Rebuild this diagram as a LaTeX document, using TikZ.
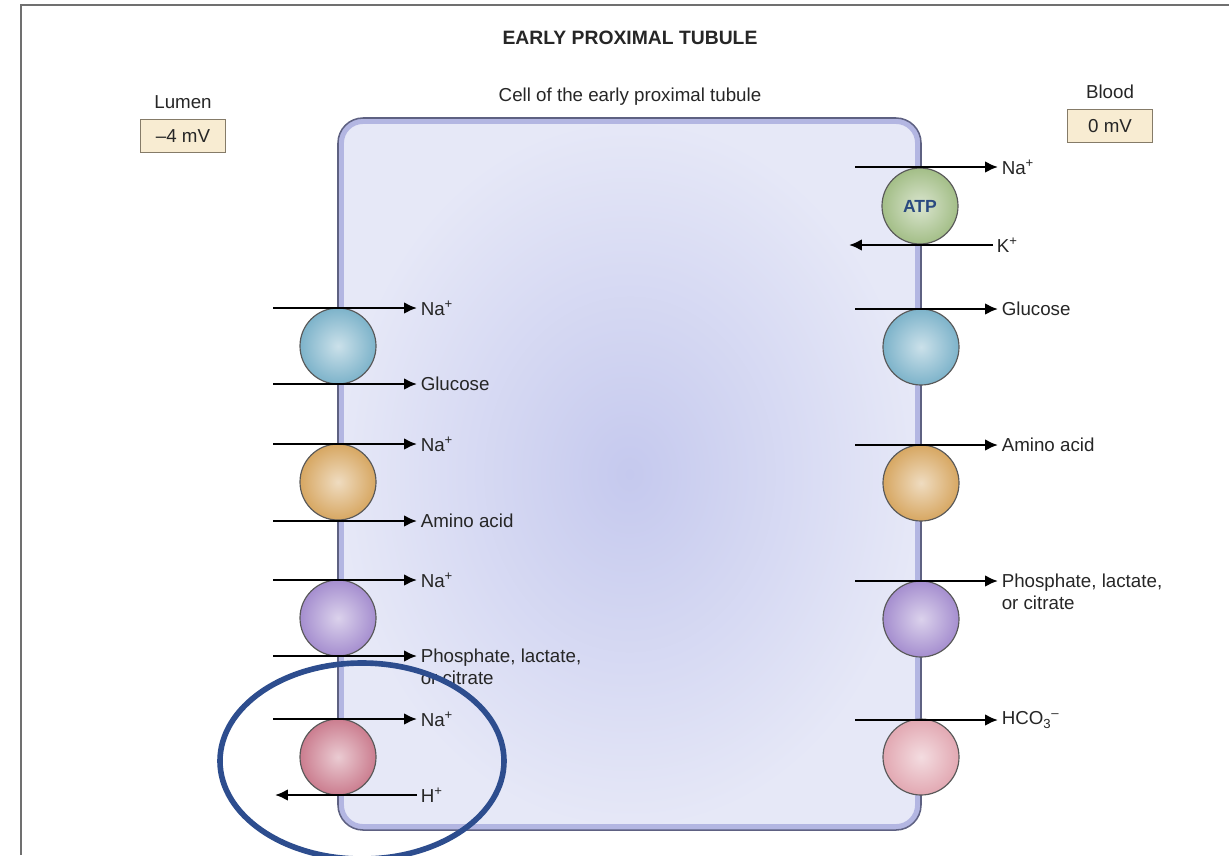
\documentclass[tikz,border=0pt]{standalone}
\usepackage{fontspec}
\setmainfont{Liberation Sans}
\usetikzlibrary{arrows.meta}

\definecolor{frame}{HTML}{707070}
\definecolor{cellin}{HTML}{C5C9EE}
\definecolor{cellout}{HTML}{E6E8F7}
\definecolor{cellband}{HTML}{B3B6E2}
\definecolor{celledge}{HTML}{5E6182}
\definecolor{boxfill}{HTML}{F8ECD2}
\definecolor{boxedge}{HTML}{857B68}
\definecolor{pblue}{HTML}{7DB3CA}
\definecolor{porange}{HTML}{D7A762}
\definecolor{ppurple}{HTML}{A58ECF}
\definecolor{pred}{HTML}{CB7D8F}
\definecolor{ppink}{HTML}{E2A8B2}
\definecolor{pgreen}{HTML}{A3BE87}
\definecolor{atptext}{HTML}{2B4A80}
\definecolor{ringblue}{HTML}{2D4D8E}

\tikzset{
  txt/.style={font=\fontsize{16}{19}\selectfont, text=black!85, inner sep=1.5pt},
  lbl/.style={txt, anchor=west, align=left, inner sep=3pt},
  arr/.style={line width=2pt, -{Latex[length=11pt,width=10pt]}},
  pump/.style={circle, draw=black!65, line width=1pt, minimum size=2.28cm, inner sep=0pt,
    inner color=#1!40!white, outer color=#1},
  mvbox/.style={txt, draw=boxedge, fill=boxfill, line width=1.2pt, minimum width=2.55cm, minimum height=1cm}
}

\begin{document}
\begin{tikzpicture}[x=0.03cm, y=-0.03cm]
    \useasboundingbox (0,0) rectangle (1229,855);
    \draw[line width=1.6pt, frame] (21,855) -- (21,5) -- (1229,5);

    % the cell
    \shade[inner color=cellin, outer color=cellout, rounded corners=0.75cm] (338,118) rectangle (921,830);
    \draw[line width=5pt, cellband, rounded corners=0.66cm] (341,121) rectangle (918,827);
    \draw[line width=1.3pt, celledge, rounded corners=0.75cm] (338,118) rectangle (921,830);

    \node[txt, font=\fontsize{16.5}{19}\selectfont\bfseries] (title) at (630,38) {EARLY PROXIMAL TUBULE};
    \node[txt] (cellname) at (630,97) {Cell of the early proximal tubule};
    \node[txt] (lumen) at (183,102) {Lumen};
    \node[mvbox] (lumenmv) at (183,136) {--4 mV};
    \node[txt] (blood) at (1110,92) {Blood};
    \node[mvbox] (bloodmv) at (1110,126) {0 mV};

    % transporters
    \node[pump=pblue]   (gluL) at (338,346) {};
    \node[pump=porange] (aaL)  at (338,482) {};
    \node[pump=ppurple] (phoL) at (338,618) {};
    \node[pump=pred]    (nhe)  at (338,757) {};
    \node[pump=pgreen]  (atp)  at (920,206) {};
    \node[font=\fontsize{15}{18}\selectfont\bfseries, text=atptext] at (atp) {ATP};
    \node[pump=pblue]   (gluR) at (921,347) {};
    \node[pump=porange] (aaR)  at (921,483) {};
    \node[pump=ppurple] (phoR) at (921,619) {};
    \node[pump=ppink]   (hcoR) at (921,757) {};

    % lumen side fluxes
    \foreach \y/\t [count=\i] in {308/Na\textsuperscript{+}, 384/Glucose, 444/Na\textsuperscript{+},
        521/Amino acid, 580/Na\textsuperscript{+}, 719/Na\textsuperscript{+}} {
        \coordinate (fromL\i) at (273,\y);
        \node[lbl] (toL\i) at (417,\y) {\t};
        \draw[arr] (fromL\i) -- (fromL\i -| toL\i.west);
    }
    \coordinate (fromL7) at (273,656);
    \node[lbl, anchor=north west] (toL7) at (417,645) {Phosphate, lactate,\\or citrate};
    \draw[arr] (fromL7) -- (fromL7 -| toL7.west);
    \coordinate (outH) at (275,795);
    \node[lbl] (hion) at (417,795) {H\textsuperscript{+}};
    \draw[arr] (hion.west) -- (hion.west -| outH);

    % blood side fluxes
    \foreach \y/\t [count=\i] in {167/Na\textsuperscript{+}, 309/Glucose, 445/Amino acid,
        720/HCO\textsubscript{3}\textsuperscript{--}} {
        \coordinate (fromR\i) at (855,\y);
        \node[lbl] (toR\i) at (998,\y) {\t};
        \draw[arr] (fromR\i) -- (fromR\i -| toR\i.west);
    }
    \coordinate (fromR5) at (855,581);
    \node[lbl, anchor=north west] (toR5) at (998,570) {Phosphate, lactate,\\or citrate};
    \draw[arr] (fromR5) -- (fromR5 -| toR5.west);
    \coordinate (inK) at (849,245);
    \node[lbl] (kion) at (993,245) {K\textsuperscript{+}};
    \draw[arr] (kion.west) -- (kion.west -| inK);

    \draw[line width=4.8pt, ringblue] (362,761) ellipse [x radius=4.26cm, y radius=2.94cm];
\end{tikzpicture}
\end{document}
